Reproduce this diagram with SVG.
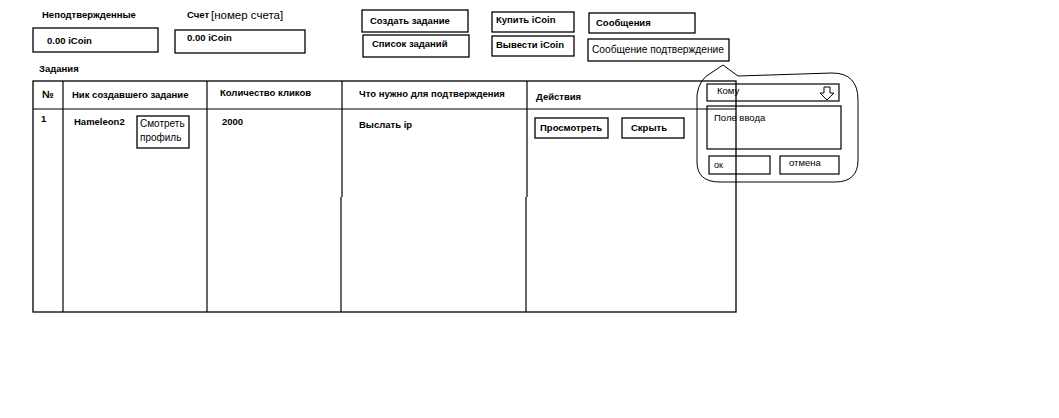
<svg xmlns="http://www.w3.org/2000/svg" width="1059" height="418" viewBox="0 0 1059 418">
<style>
.b{fill:none;stroke:#000;stroke-width:1.3}
.t{font-family:"Liberation Sans",Arial,sans-serif;font-weight:bold;font-size:9.5px;fill:#000}
.r{font-family:"Liberation Sans",Arial,sans-serif;font-size:10px;fill:#000}
.l{fill:none;stroke:#000;stroke-width:1.2}
</style>
<rect width="1059" height="418" fill="#fff"/>
<g id="unconfirmed">
<text class="t" x="42" y="18">Неподтвержденные</text>
<rect class="b" x="33" y="28" width="125" height="24"/>
<text class="t" x="47" y="44">0.00 iCoin</text>
</g>
<g id="account">
<text class="t" x="187" y="18">Счет</text>
<text class="r" x="211" y="19" style="font-size:11.5px">[номер счета]</text>
<rect class="b" x="175" y="30" width="130" height="23"/>
<text class="t" x="187" y="41">0.00 iCoin</text>
</g>
<g id="btn-create"><rect class="b" x="362" y="10" width="106" height="22"/><text class="t" x="370" y="24">Создать задание</text></g>
<g id="btn-list"><rect class="b" x="363" y="35" width="106" height="22"/><text class="t" x="372" y="47">Список заданий</text></g>
<g id="btn-buy"><rect class="b" x="492" y="12" width="82" height="20"/><text class="t" x="496" y="23">Купить iCoin</text></g>
<g id="btn-withdraw"><rect class="b" x="492" y="36" width="82" height="20"/><text class="t" x="496" y="48">Вывести iCoin</text></g>
<g id="btn-messages"><rect class="b" x="589" y="13" width="106" height="20"/><text class="t" x="596" y="26">Сообщения</text></g>
<g id="btn-confirm-msg"><rect class="b" x="588" y="39" width="141" height="22"/><text class="r" x="592" y="53" style="font-size:10.2px">Сообщение подтверждение</text></g>
<g id="tasks-title"><text class="t" x="39" y="72">Задания</text></g>
<g id="table">
<rect class="b" x="33" y="81" width="703" height="231"/>
<line class="l" x1="33" y1="109" x2="736" y2="109"/>
<line class="l" x1="63" y1="81" x2="63" y2="312"/>
<line class="l" x1="207" y1="81" x2="207" y2="312"/>
<line class="l" x1="342" y1="81" x2="342" y2="197"/>
<line class="l" x1="341" y1="197" x2="341" y2="312"/>
<line class="l" x1="527" y1="81" x2="527" y2="197"/>
<line class="l" x1="526" y1="197" x2="526" y2="312"/>
<text class="t" x="42" y="98" style="font-size:10.5px">№</text>
<text class="t" x="72" y="98">Ник создавшего задание</text>
<text class="t" x="220" y="96">Количество кликов</text>
<text class="t" x="359" y="97">Что нужно для подтверждения</text>
<text class="t" x="536" y="100">Действия</text>
<text class="t" x="41" y="122">1</text>
<text class="t" x="74" y="125">Hameleon2</text>
<text class="t" x="222" y="125">2000</text>
<text class="t" x="359" y="128">Выслать ip</text>
</g>
<g id="btn-profile"><rect class="b" x="137" y="116" width="52" height="32"/><text class="r" x="140" y="127">Смотреть</text><text class="r" x="140" y="141">профиль</text></g>
<g id="btn-view"><rect class="b" x="535" y="118" width="73" height="20"/><text class="t" x="540" y="131">Просмотреть</text></g>
<g id="btn-hide"><rect class="b" x="622" y="118" width="62" height="20"/><text class="t" x="631" y="131">Скрыть</text></g>
<g id="connectors"></g>
<g id="popup">
<path fill="none" stroke="#000" stroke-width="1" d="M723,65 L738,76 L832,73 Q858,73 858,100 L858,160 Q858,182 835,182 L720,182 Q697,182 697,162 L697,95 Q699,79 711,73 Z"/>
<rect class="l" x="707" y="84" width="132" height="17"/>
<text class="r" x="717" y="94" style="font-size:9.5px">Кому</text>
<path fill="none" stroke="#000" stroke-width="1" d="M824,87 L830,87 L830,93 L834,93 L827,100 L820,93 L824,93 Z"/>
<rect class="l" x="707" y="106" width="134" height="43"/>
<text class="r" x="714" y="121" style="font-size:9.5px">Поле ввода</text>
<rect class="l" x="709" y="156" width="61" height="18"/>
<text class="r" x="714" y="168" style="font-size:9px">ок</text>
<rect class="l" x="780" y="156" width="59" height="18"/>
<text class="r" x="789" y="166" style="font-size:9.5px">отмена</text>
</g>
</svg>
